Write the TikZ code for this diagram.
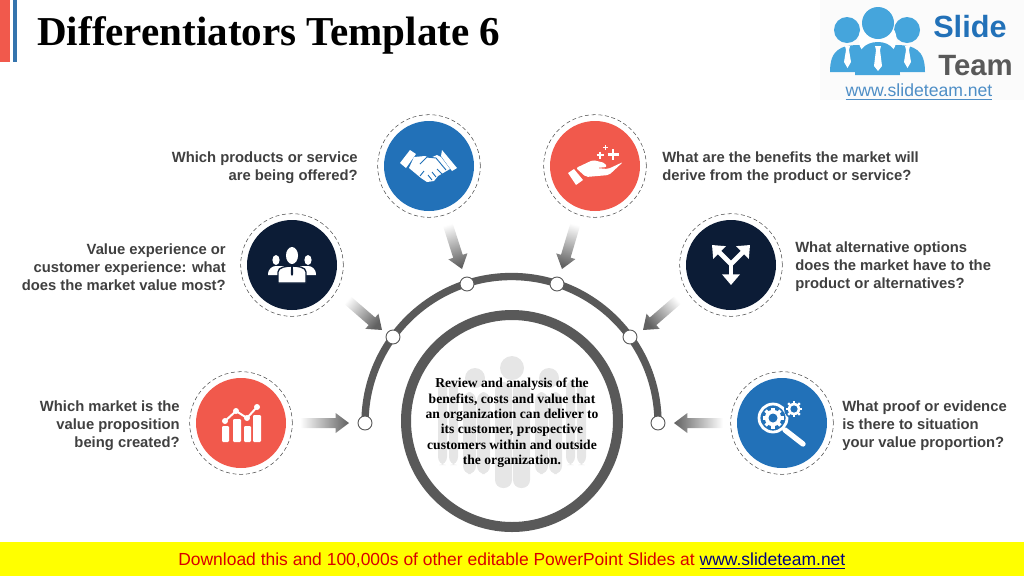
\documentclass[tikz,border=0pt]{standalone}
\usepackage{fontspec}
\setmainfont{Liberation Sans}
\newfontfamily\serifbold[Scale=1]{Liberation Serif}
\usetikzlibrary{arrows.meta,calc}
\definecolor{tomato}{HTML}{F1594C}
\definecolor{bluedisc}{HTML}{2271B8}
\definecolor{navydisc}{HTML}{0C1C36}
\definecolor{ringgray}{HTML}{595959}
\definecolor{labelgray}{HTML}{404040}
\definecolor{ghost}{HTML}{E6E6E6}
\definecolor{logoblue}{HTML}{45A5DC}
\definecolor{banner}{HTML}{FFFF00}
\tikzset{
	question/.style={font=\fontsize{11.1}{13.5}\selectfont\bfseries,text=labelgray,inner sep=0pt},
	halo/.style={circle,draw=black!70,densely dashed,thin,minimum size=77pt,inner sep=0pt},
	knot/.style={circle,draw=ringgray,fill=white,line width=0.7pt,minimum size=10.5pt,inner sep=0pt},
	pill/.style={fill=ghost,rounded corners=6pt},
	icon/.style={fill=white,draw=none}
}
\begin{document}
\begin{tikzpicture}[x=0.75pt,y=-0.75pt]
	\useasboundingbox (0,0) rectangle (1024,576);
	% header
	\fill[tomato] (0,0) rectangle (10,62);
	\fill[bluedisc!80!gray] (13,0) rectangle (17,62);
	\node[anchor=base west,inner sep=0pt,font=\serifbold\fontsize{30.8}{34}\selectfont\bfseries] (title) at (37,45) {Differentiators Template 6};

	% logo
	\fill[black!1.5] (820,0) rectangle (1024,100);
	\begin{scope}[logoblue]
		\fill (847,30) circle (13);
		\fill (907,30) circle (13);
		\fill (830,72) .. controls (830,50) and (840,45) .. (860,45) -- (895,45) .. controls (915,45) and (925,50) .. (925,72) -- cycle;
		\fill[white] (877.5,39) circle (19);
		\fill (878,23) circle (16);
		\fill (855,75) .. controls (855,50) and (865,42) .. (878,42) .. controls (890,42) and (900,50) .. (900,75) -- cycle;
		\fill[white] (875,46) -- (881,46) -- (880,50) -- (882,66) -- (878,71) -- (874,66) -- (876,50) -- cycle;
		\fill[white] (845,46) -- (850,46) -- (849,50) -- (851,62) -- (847.5,68) -- (844,62) -- (846,50) -- cycle;
		\fill[white] (905,46) -- (910,46) -- (909,50) -- (911,62) -- (907.5,68) -- (904,62) -- (906,50) -- cycle;
	\end{scope}
	\node[anchor=base west,inner sep=0pt,text=bluedisc,font=\fontsize{23}{23}\selectfont\bfseries] (slide) at (933,37) {Slide};
	\node[anchor=base west,inner sep=0pt,text=black!65,font=\fontsize{22}{22}\selectfont\bfseries] (team) at (938,75) {Team};
	\node[anchor=center,inner sep=0pt,text=bluedisc!80,font=\fontsize{13.2}{13.2}\selectfont] (site) at (919,92) {\underline{www.slideteam.net}};

	% discs
	\begin{scope}[every node/.style={circle,minimum size=67.5pt,inner sep=0pt,text=white}]
		\node[fill=bluedisc] (deal) at (429,166) {};
		\node[fill=tomato] (gain) at (595,166) {};
		\node[fill=navydisc] (team1) at (292,265) {};
		\node[fill=navydisc] (fork) at (731,265) {};
		\node[fill=tomato] (chart) at (241,423) {};
		\node[fill=bluedisc] (lens) at (782,423) {};
	\end{scope}
	\foreach \n in {deal,gain,team1,fork,chart,lens}
		\node[halo] (h\n) at (\n) {};

	% questions
	\node[question,anchor=east,align=right] (q1) at (358,168) {Which products or service\\are being offered?};
	\node[question,anchor=west,align=left] (q2) at (662,168) {What are the benefits the market will\\derive from the product or service?};
	\node[question,anchor=east,align=right] (q3) at (226,267) {Value experience or\\customer experience: what\\does the market value most?};
	\node[question,anchor=west,align=left] (q4) at (795,267) {What alternative options\\does the market have to the\\product or alternatives?};
	\node[question,anchor=east,align=right] (q5) at (180,426) {Which market is the\\value proposition\\being created?};
	\node[question,anchor=west,align=left] (q6) at (842,426) {What proof or evidence\\is there to situation\\your value proportion?};

	% handshake icon
	\begin{scope}[shift={(deal)}]
		\fill[icon] (-29,-3) -- (-19,-16) -- (-13,-12) -- (-23,2) -- cycle;
		\fill[icon] (13,-16) -- (28,2) -- (23,5) -- (12,-10) -- cycle;
		\fill[icon] (-15,-9) -- (-4,-10) -- (1,-8) -- (8,-11) -- (12,-9) -- (21,3) -- (9,10) -- (5,15) -- (-2,16) -- (-8,12) -- (-20,2) -- cycle;
		\draw[bluedisc,line width=0.7pt] (-9,-2) -- (-2,-9) -- (7,-8) -- (17,4) (8,3) -- (13,8) (3,6) -- (7,11) (-1,9) -- (3,14) (-5,5) -- (-9,10);
	\end{scope}

	% open hand icon
	\begin{scope}[shift={(gain)}]
		\fill[icon] (-27,7) -- (-21,3) -- (-12,14) -- (-19,19) -- cycle;
		\fill[icon,rounded corners=1.5pt] (-19,2) -- (-2,-6) -- (10,-3) -- (12,1) -- (1,2) -- (13,3) -- (28,-4) -- (14,9) -- (-9,11) -- cycle;
		\draw[white,line width=1.6pt] (18,-17) -- (18,-6) (12.5,-11.5) -- (23.5,-11.5);
		\draw[white,line width=1.2pt] (5,-14.5) -- (5,-7.5) (1.5,-11) -- (8.5,-11);
		\draw[white,line width=0.9pt] (10.5,-21) -- (10.5,-16) (8,-18.5) -- (13,-18.5);
	\end{scope}

	% three people icon
	\begin{scope}[shift={(team1)}]
		\fill[icon] (-16,-5) ellipse (3.6 and 5);
		\fill[icon] (16,-5) ellipse (3.6 and 5);
		\fill[icon] (-24,10) .. controls (-24,3) and (-19,1) .. (-16,1) -- (16,1) .. controls (19,1) and (24,3) .. (24,10) -- cycle;
		\draw[navydisc,line width=1pt,fill=white] (-14,18) -- (-14,7) .. controls (-14,2) and (-5,1) .. (0,1) .. controls (5,1) and (14,2) .. (14,7) -- (14,18) -- cycle;
		\fill[icon] (0,-9.5) ellipse (6 and 8.5);
		\fill[navydisc] (-0.8,0) -- (0.8,0) -- (1.2,9) -- (0,11) -- (-1.2,9) -- cycle;
	\end{scope}

	% split arrows icon
	\begin{scope}[shift={(fork)}]
		\coordinate (fork0) at (0,-1);
		\coordinate (forkA) at (-19,-20);
		\coordinate (forkB) at (19,-20);
		\coordinate (forkC) at (0,20);
		\draw[white,line width=3.6pt,-{Triangle[length=8pt,width=13pt]}] (fork0) -- (forkA);
		\draw[white,line width=3.6pt,-{Triangle[length=8pt,width=13pt]}] (fork0) -- (forkB);
		\draw[white,line width=3.6pt,-{Triangle[length=8pt,width=13pt]}] (fork0) -- (forkC);
	\end{scope}

	% chart icon
	\begin{scope}[shift={(chart)}]
		\fill[icon,rounded corners=0.8pt] (-19,3) rectangle (-12,19);
		\fill[icon,rounded corners=0.8pt] (-8,-4) rectangle (0,19);
		\fill[icon,rounded corners=0.8pt] (3,3) rectangle (10,19);
		\fill[icon,rounded corners=0.8pt] (12,-8) rectangle (20,19);
		\draw[tomato,line width=3pt] (-16,-2) -- (-5,-12) -- (6,-5) -- (16,-16);
		\draw[white,line width=1.5pt] (-16,-2) -- (-5,-12) -- (6,-5) -- (16,-16);
		\foreach \p in {(-16,-2),(-5,-12),(6,-5),(16,-16)}
			\fill[icon] \p circle (3);
	\end{scope}

	% magnifier with gears icon
	\begin{scope}[shift={(lens)}]
		\draw[white,line width=4pt,line cap=round] (3,7) -- (21,21);
		\draw[white,line width=2.1pt,fill=bluedisc] (-9,-5) circle (14);
		\foreach \a in {0,45,...,315}
			\draw[white,line width=2.4pt] (-9,-5) -- ++(\a:10.5);
		\fill[white] (-9,-5) circle (8.2);
		\fill[bluedisc] (-9,-5) circle (4.5);
		\fill[bluedisc] (12,-14) circle (10);
		\foreach \a in {0,45,...,315}
			\draw[white,line width=1.8pt] (12,-14) -- ++(\a:8.2);
		\fill[white] (12,-14) circle (6.2);
		\fill[bluedisc] (12,-14) circle (3.6);
	\end{scope}

	% watermark people behind the text
	\fill[ghost] (512,368) circle (12);
	\fill[ghost] (475,378) circle (10);
	\fill[ghost] (549,378) circle (10);
	\fill[pill] (495,382) rectangle (512,488);
	\fill[pill] (513,382) rectangle (530,488);
	\fill[pill] (463,392) rectangle (476,474);
	\fill[pill] (477,392) rectangle (490,474);
	\fill[pill] (535,392) rectangle (548,474);
	\fill[pill] (549,392) rectangle (562,474);
	\fill[pill] (438,380) rectangle (447,465);
	\fill[pill] (449,380) rectangle (458,465);
	\fill[pill] (566,380) rectangle (575,465);
	\fill[pill] (577,380) rectangle (586,465);

	% centre ring and arc
	\node[circle,draw=ringgray,line width=7.5pt,minimum size=159pt,inner sep=0pt] (core) at (512,421) {};
	\node[align=center,inner sep=0pt,font=\serifbold\fontsize{10.2}{11.5}\selectfont\bfseries] (summary) at (512,423) {Review and analysis of the\\benefits, costs and value that\\an organization can deliver to\\its customer, prospective\\customers within and outside\\the organization.};
	\draw[ringgray,line width=5.5pt] (365,423) arc[start angle=180,end angle=360,radius=146.5];
	\begin{scope}[every node/.style={knot}]
		\node (k1) at (365,423) {};
		\node (k2) at (393,337) {};
		\node (k3) at (467,284) {};
		\node (k4) at (557,284) {};
		\node (k5) at (630,337) {};
		\node (k6) at (658,423) {};
	\end{scope}

	% fading arrows: from disc towards the arc
	\coordinate (s1) at (447,222); \coordinate (t1) at (462,269);
	\coordinate (s2) at (576,222); \coordinate (t2) at (562,269);
	\coordinate (s3) at (345,298); \coordinate (t3) at (382,330);
	\coordinate (s4) at (680,298); \coordinate (t4) at (643,330);
	\coordinate (s5) at (300,423); \coordinate (t5) at (349,423);
	\coordinate (s6) at (723,423); \coordinate (t6) at (674,423);
	\foreach \i/\ang in {1/17.7,2/-16.6,3/49.1,4/-49.1,5/90,6/-90} {
		\coordinate (b\i) at ($(t\i)!10pt!(s\i)$);
		\shade[left color=white,right color=black!62,shading angle=\ang]
			($(s\i)!3.75pt!90:(t\i)$) -- ($(b\i)!3.75pt!90:(t\i)$) -- ($(b\i)!7.5pt!90:(t\i)$) -- (t\i)
			-- ($(b\i)!7.5pt!-90:(t\i)$) -- ($(b\i)!3.75pt!-90:(t\i)$) -- ($(s\i)!3.75pt!-90:(t\i)$) -- cycle;
	}

	% footer
	\fill[banner] (0,542) rectangle (1024,576);
	\node[inner sep=0pt,text=red!85!black,font=\fontsize{13.1}{13.1}\selectfont,anchor=west] (promo) at (178,561) {Download this and 100,000s of other editable PowerPoint Slides at \textcolor{blue!50!black}{\underline{www.slideteam.net}}};
\end{tikzpicture}
\end{document}
